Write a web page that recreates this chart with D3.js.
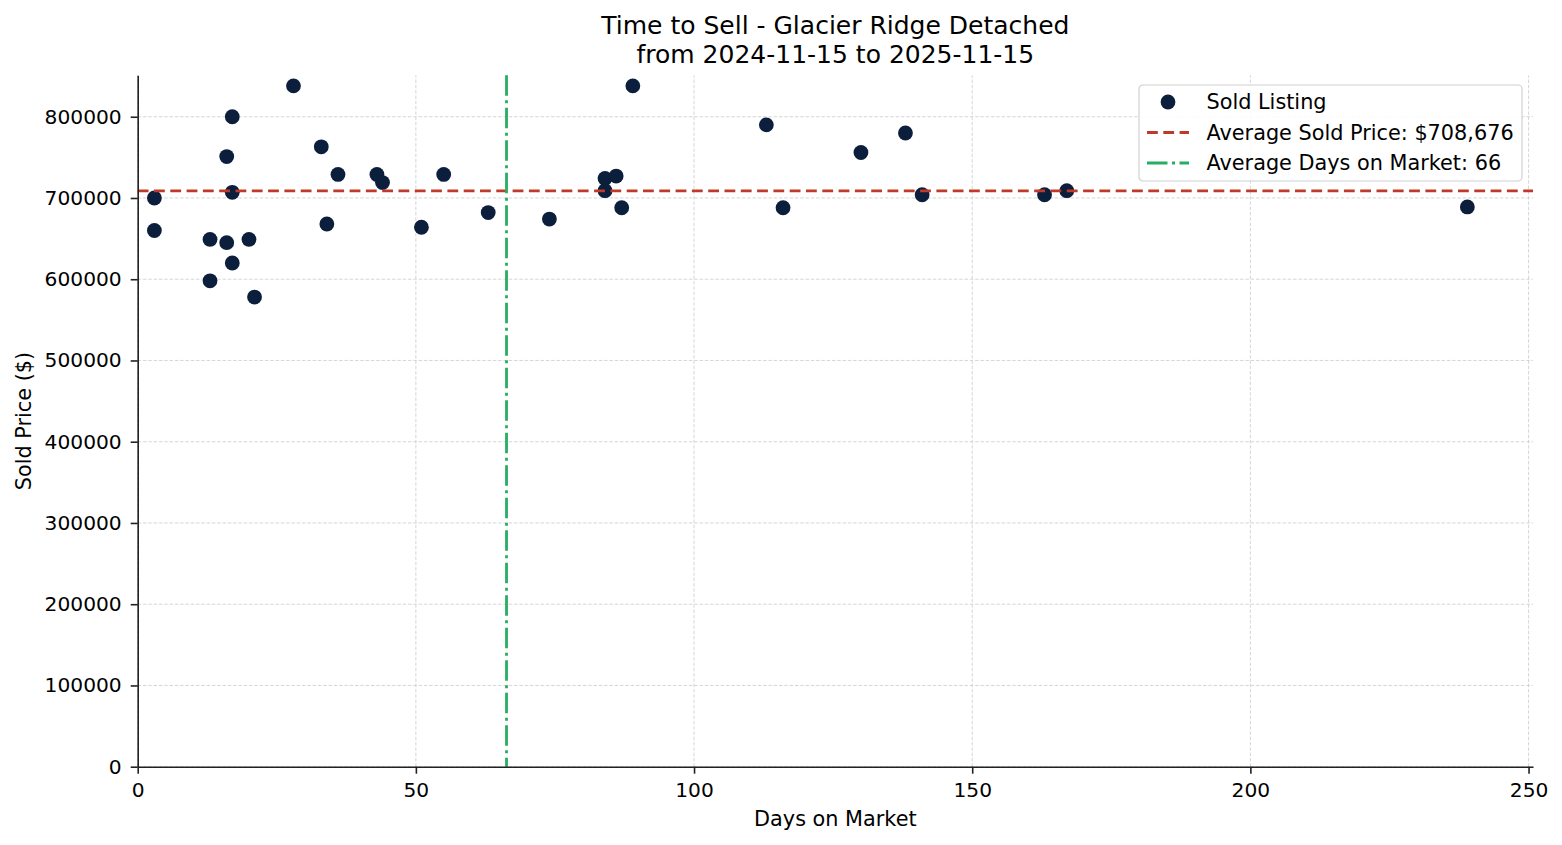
<!DOCTYPE html>
<html>
<head>
<meta charset="utf-8">
<script src="https://cdn.jsdelivr.net/npm/d3@7"></script>
<style>
  body { margin: 0; background: #fff; }
  svg { display: block; font-family: "DejaVu Sans", sans-serif; }
</style>
</head>
<body>
<div id="chart"></div>
<script>
// days on market / sold price for each listing
const days = [3, 3, 13, 13, 16, 16, 17, 17, 17, 20, 21, 28, 33, 36, 34, 43, 44, 55, 51, 63,
    74, 84, 84, 86, 87, 89, 113, 116, 130, 138, 141, 163, 167, 239];
const prices = [700000, 660000, 649000, 598000, 645000, 751000, 800000, 707000, 620000, 649000,
    578000, 838000, 763000, 729000, 668000, 729000, 719000, 729000, 664000, 682000,
    674000, 724000, 709000, 727000, 688000, 838000, 790000, 688000, 756000, 780000,
    704000, 704000, 709000, 689000];
const avgSoldPrice = 708676;
const xTicks = [0, 50, 100, 150, 200, 250];
const yTicks = [0, 100000, 200000, 300000, 400000, 500000, 600000, 700000, 800000];
const titleLines = ["Time to Sell - Glacier Ridge Detached", "from 2024-11-15 to 2025-11-15"];

const Colors = { POINT: "#0b1e3c", RED: "#c0392b", GREEN: "#27ae60", AXIS: "#222", GRID: "#b8b8b8" };

const ScatterChart = (() => {
    const width = 1562;
    const height = 845;
    const margin = { top: 75.3, right: 29, bottom: 78.3, left: 137.7 };
    const svg = d3.select("#chart")
        .append("svg")
        .attr("width", width)
        .attr("height", height)
        .attr("viewBox", [0, 0, width, height]);

    function render() {
        const data = days.map((d, i) => ({ days: d, price: prices[i] }));
        const avgDays = d3.mean(days);

        const x = d3.scaleLinear()
            .domain([0, 250.8])
            .range([margin.left, width - margin.right]);
        const y = d3.scaleLinear()
            .domain([0, 851000])
            .range([height - margin.bottom, margin.top]);

        // grid
        const grid = svg.append("g")
            .attr("stroke", Colors.GRID)
            .attr("stroke-width", 0.8)
            .attr("stroke-dasharray", "3.5,1.8")
            .attr("opacity", 0.7);
        grid.selectAll("line.v")
            .data(xTicks)
            .join("line")
            .attr("class", "v")
            .attr("x1", d => x(d)).attr("x2", d => x(d))
            .attr("y1", y.range()[0]).attr("y2", y.range()[1]);
        grid.selectAll("line.h")
            .data(yTicks)
            .join("line")
            .attr("class", "h")
            .attr("x1", x.range()[0]).attr("x2", x.range()[1])
            .attr("y1", d => y(d)).attr("y2", d => y(d));

        // points
        svg.append("g")
            .attr("fill", Colors.POINT)
            .selectAll("circle")
            .data(data)
            .join("circle")
            .attr("cx", d => x(d.days))
            .attr("cy", d => y(d.price))
            .attr("r", 7.4);

        // average lines
        svg.append("line")
            .attr("x1", x.range()[0]).attr("x2", x.range()[1])
            .attr("y1", y(avgSoldPrice)).attr("y2", y(avgSoldPrice))
            .attr("stroke", Colors.RED)
            .attr("stroke-width", 2.8)
            .attr("stroke-dasharray", "10.8,5.5");
        svg.append("line")
            .attr("x1", x(avgDays)).attr("x2", x(avgDays))
            .attr("y1", y.range()[1]).attr("y2", y.range()[0])
            .attr("stroke", Colors.GREEN)
            .attr("stroke-width", 2.8)
            .attr("stroke-dasharray", "20.5,4.5,3,4.5");

        // axes
        svg.append("g")
            .attr("transform", `translate(0,${height - margin.bottom})`)
            .call(d3.axisBottom(x).tickValues(xTicks).tickFormat(d3.format("d")).tickSize(7).tickPadding(9).tickSizeOuter(0))
            .call(_styleAxis);
        svg.append("g")
            .attr("transform", `translate(${margin.left},0)`)
            .call(d3.axisLeft(y).tickValues(yTicks).tickFormat(d3.format("d")).tickSize(7).tickPadding(9).tickSizeOuter(0))
            .call(_styleAxis);

        // titles
        svg.append("text")
            .attr("text-anchor", "middle")
            .attr("font-size", 25)
            .selectAll("tspan")
            .data(titleLines)
            .join("tspan")
            .attr("x", (x.range()[0] + x.range()[1]) / 2)
            .attr("y", (d, i) => 34 + i * 28.5)
            .text(d => d);
        svg.append("text")
            .attr("text-anchor", "middle")
            .attr("font-size", 20.8)
            .attr("x", (x.range()[0] + x.range()[1]) / 2)
            .attr("y", 826)
            .text("Days on Market");
        svg.append("text")
            .attr("text-anchor", "middle")
            .attr("font-size", 20.8)
            .attr("transform", `translate(24,${(y.range()[0] + y.range()[1]) / 2}) rotate(-90)`)
            .attr("dy", "0.35em")
            .text("Sold Price ($)");

        _legend(avgDays);
    }

    function _styleAxis(g) {
        g.selectAll(".domain").attr("stroke", Colors.AXIS).attr("stroke-width", 1.6);
        g.selectAll(".tick line").attr("stroke", Colors.AXIS).attr("stroke-width", 1.6);
        g.selectAll(".tick text").attr("font-size", 20.2).attr("font-family", "DejaVu Sans").attr("fill", "#000");
    }

    function _legend(avgDays) {
        const lg = svg.append("g").attr("transform", "translate(1139,85)");
        lg.append("rect")
            .attr("width", 383).attr("height", 96)
            .attr("rx", 4)
            .attr("fill", "#fff").attr("fill-opacity", 0.85)
            .attr("stroke", "#d0d0d0").attr("stroke-width", 1.2);
        const items = [
            { label: "Sold Listing", type: "dot" },
            { label: `Average Sold Price: $${d3.format(",")(avgSoldPrice)}`, type: "line", color: Colors.RED, dash: "10.8,5.5" },
            { label: `Average Days on Market: ${Math.round(avgDays)}`, type: "line", color: Colors.GREEN, dash: "20.5,4.5,3,4.5" }
        ];
        const row = lg.selectAll("g")
            .data(items)
            .join("g")
            .attr("transform", (d, i) => `translate(0,${17 + i * 30.5})`);
        row.filter(d => d.type === "dot")
            .append("circle")
            .attr("cx", 29).attr("r", 7.4).attr("fill", Colors.POINT);
        row.filter(d => d.type === "line")
            .append("line")
            .attr("x1", 8).attr("x2", 50)
            .attr("stroke", d => d.color)
            .attr("stroke-width", 2.8)
            .attr("stroke-dasharray", d => d.dash);
        row.append("text")
            .attr("x", 67.5)
            .attr("dy", "0.35em")
            .attr("font-size", 20.8)
            .text(d => d.label);
    }

    return { render };
})();

ScatterChart.render();
</script>
</body>
</html>
